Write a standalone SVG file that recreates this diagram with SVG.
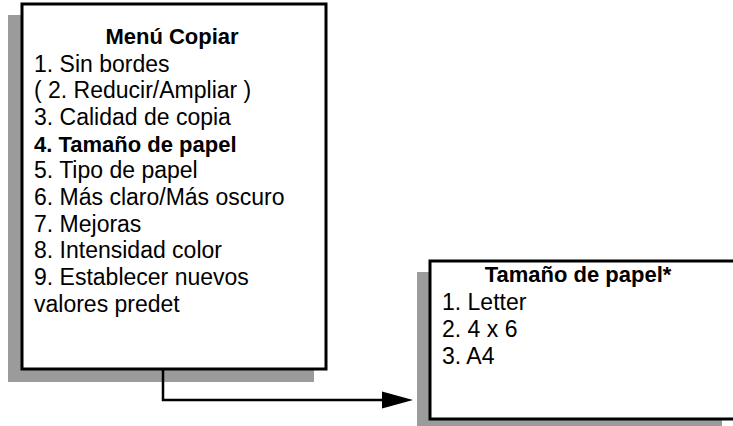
<svg xmlns="http://www.w3.org/2000/svg" width="733" height="426" viewBox="0 0 733 426">
<defs>
<style>
.shadow{fill:#9b9b9b}
.box{fill:#fff;stroke:#000;stroke-width:3}
.t{font-family:"Liberation Sans",Arial,sans-serif;font-size:23px;fill:#000}
.b{font-weight:bold;font-size:22px}
.conn{fill:none;stroke:#000;stroke-width:2.5}
</style>
</defs>
<g id="menu-copiar">
<rect class="shadow" x="8" y="15" width="306" height="367"/>
<rect class="box" x="22" y="4" width="304" height="365"/>
<text class="t b" x="172" y="44" text-anchor="middle">Menú Copiar</text>
<text class="t" x="34" y="72">1. Sin bordes</text>
<text class="t" x="34" y="98">( 2. Reducir/Ampliar )</text>
<text class="t" x="34" y="125">3. Calidad de copia</text>
<text class="t b" x="34" y="152">4. Tamaño de papel</text>
<text class="t" x="34" y="178">5. Tipo de papel</text>
<text class="t" x="34" y="205">6. Más claro/Más oscuro</text>
<text class="t" x="34" y="232">7. Mejoras</text>
<text class="t" x="34" y="258">8. Intensidad color</text>
<text class="t" x="34" y="285">9. Establecer nuevos</text>
<text class="t" x="34" y="312">valores predet</text>
</g>
<g id="tamano-papel">
<rect class="shadow" x="417" y="272" width="305" height="154"/>
<rect class="box" x="430" y="261" width="310" height="158"/>
<text class="t b" x="578" y="282" text-anchor="middle">Tamaño de papel*</text>
<text class="t" x="442" y="310">1. Letter</text>
<text class="t" x="442" y="337">2. 4 x 6</text>
<text class="t" x="442" y="364">3. A4</text>
</g>
<g id="connectors">
<path class="conn" d="M163,369 V400 H384"/>
<path d="M382,391.5 L413,400 L382,408.5 Z" fill="#000"/>
</g>
</svg>
